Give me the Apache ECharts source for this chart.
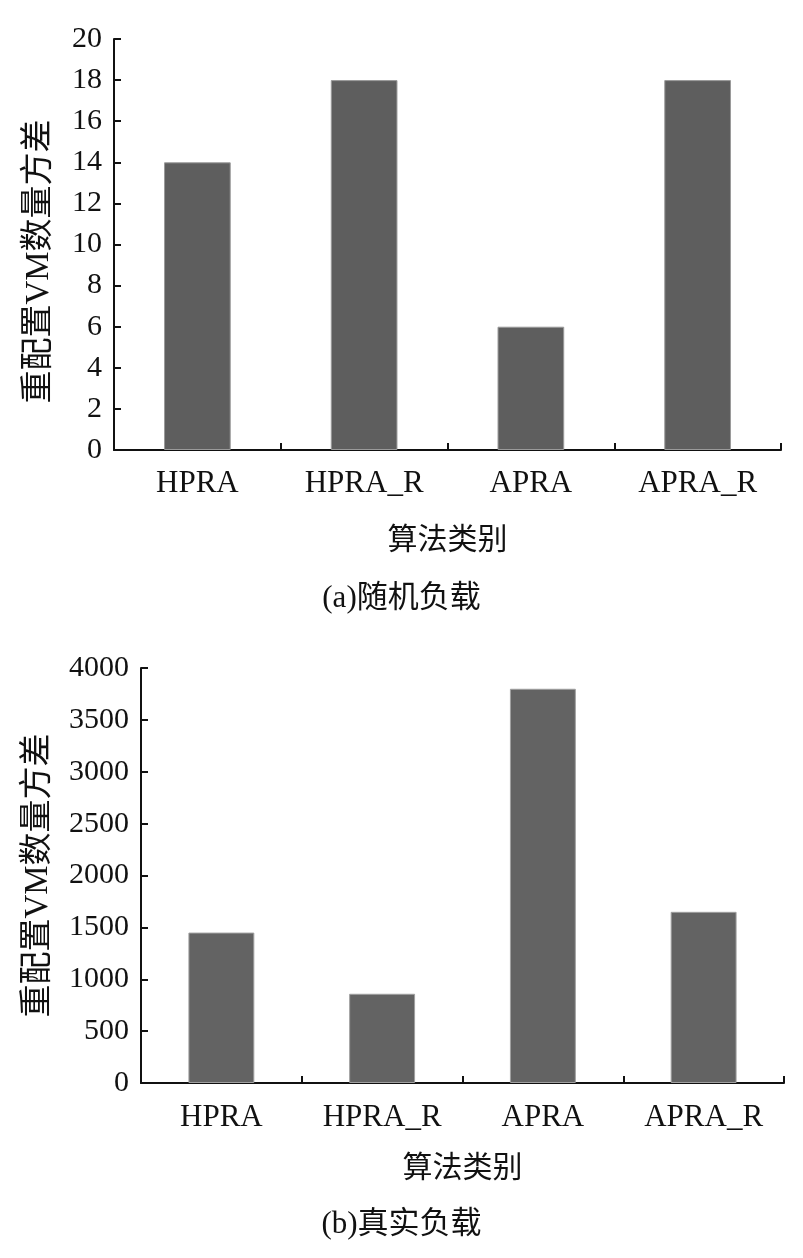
<!DOCTYPE html>
<html>
<head>
<meta charset="utf-8">
<script src="https://cdn.jsdelivr.net/npm/echarts@6/dist/echarts.min.js"></script>
<style>
html,body{margin:0;padding:0;background:#fff;}
#chart{width:803px;height:1258px;}
</style>
</head>
<body>
<div id="chart"></div>
<script>
var categories = ['HPRA', 'HPRA_R', 'APRA', 'APRA_R'];
var randomLoad = [14, 18, 6, 18];
var realLoad = [1450, 860, 3800, 1650];
var yNameText = '重配置VM数量方差';
var xNameText = '算法类别';
var captionA = '(a)随机负载';
var captionB = '(b)真实负载';

var FONT = '"Liberation Serif", "Noto Sans CJK SC", serif';
var chart = echarts.init(document.getElementById('chart'), null, {renderer: 'canvas'});

function xAxisCfg(gridIndex, labelMargin, nameGap) {
  return {
    type: 'category', gridIndex: gridIndex, data: categories,
    name: xNameText, nameLocation: 'middle', nameGap: nameGap,
    nameTextStyle: {fontFamily: FONT, fontSize: 30, color: '#111'},
    axisLine: {lineStyle: {color: '#111', width: 2}},
    axisTick: {show: true, inside: true, length: 7, lineStyle: {color: '#111', width: 2}},
    axisLabel: {fontFamily: FONT, fontSize: 31, color: '#111', margin: labelMargin}
  };
}
function yAxisCfg(gridIndex, max, interval, nameGap, namePadding) {
  return {
    type: 'value', gridIndex: gridIndex, min: 0, max: max, interval: interval,
    name: yNameText, nameLocation: 'middle', nameGap: nameGap, nameRotate: 90,
    nameTextStyle: {fontFamily: FONT, fontSize: 33, color: '#111', padding: namePadding},
    axisLine: {show: true, lineStyle: {color: '#111', width: 2}},
    axisTick: {show: true, inside: true, length: 7, lineStyle: {color: '#111', width: 2}},
    axisLabel: {fontFamily: FONT, fontSize: 30, color: '#111', margin: 12,
                formatter: function (v) { return String(v); }},
    splitLine: {show: false}
  };
}

chart.setOption({
  backgroundColor: '#fff',
  animation: false,
  grid: [
    {left: 114, top: 39, right: 22, bottom: 808},
    {left: 141, top: 668, right: 19, bottom: 175}
  ],
  xAxis: [xAxisCfg(0, 18, 76), xAxisCfg(1, 19, 71)],
  yAxis: [yAxisCfg(0, 20, 2, 58, [0, 34, 0, 0]), yAxisCfg(1, 4000, 500, 86, 0)],
  graphic: [
    {type: 'text', left: 'center', top: 583, style: {text: captionA, font: '31px ' + FONT, fill: '#111'}},
    {type: 'text', left: 'center', top: 1209, style: {text: captionB, font: '31px ' + FONT, fill: '#111'}}
  ],
  series: [
    {type: 'bar', xAxisIndex: 0, yAxisIndex: 0, data: randomLoad, barWidth: '40%',
     itemStyle: {color: '#5e5e5e', borderColor: '#9a9a9a', borderWidth: 1}},
    {type: 'bar', xAxisIndex: 1, yAxisIndex: 1, data: realLoad, barWidth: '41%',
     itemStyle: {color: '#636363', borderColor: '#a0a0a0', borderWidth: 1}}
  ]
});
</script>
</body>
</html>
